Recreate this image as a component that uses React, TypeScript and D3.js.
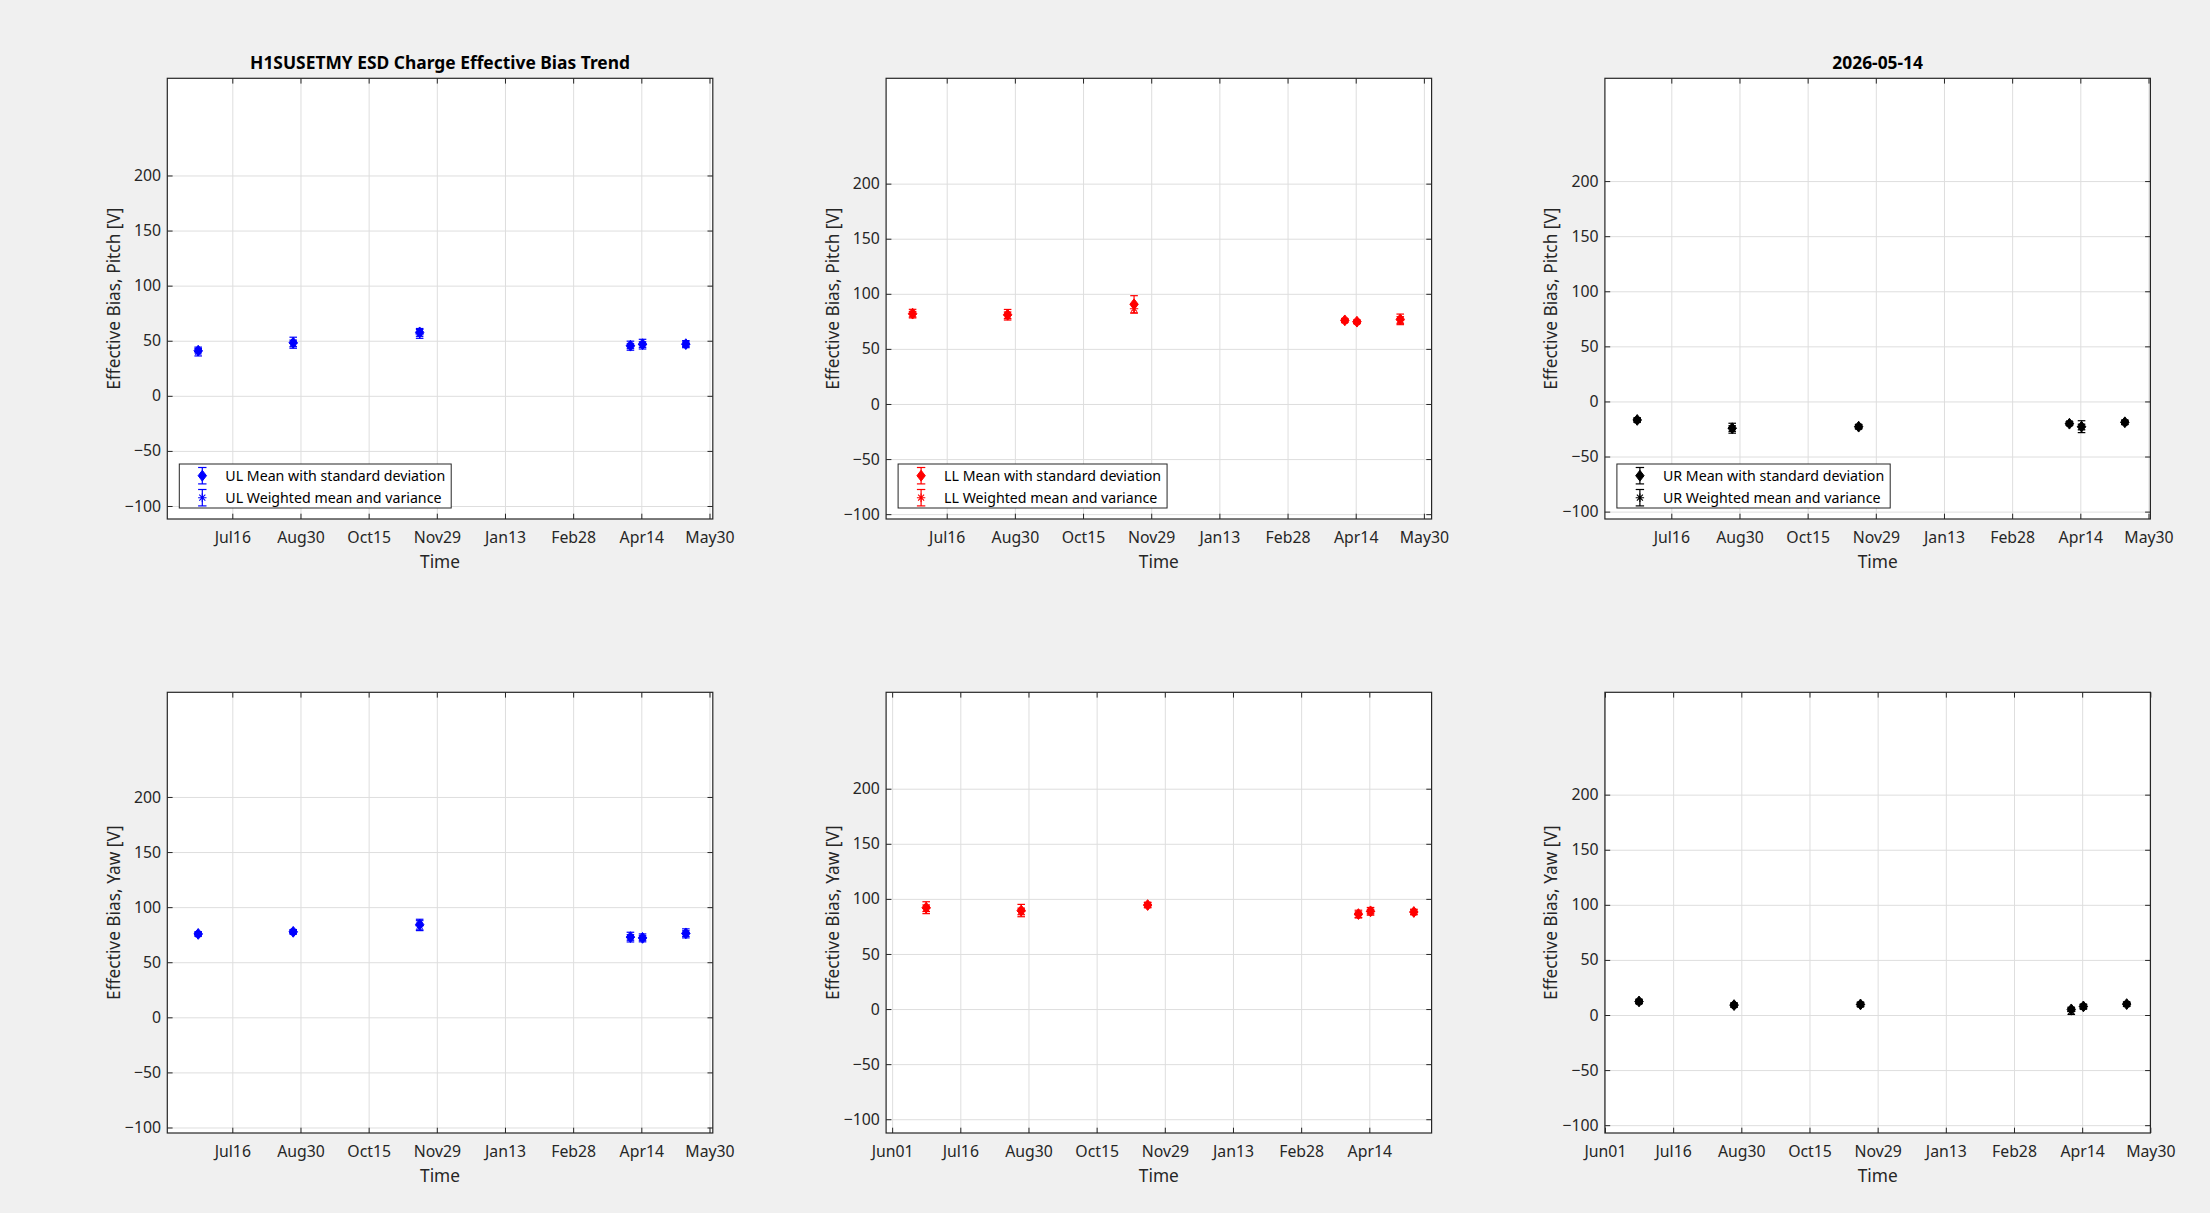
import { useRef, useEffect } from "react";
import * as d3 from "d3";

// measurement dates (UTC)
const dates = [
  "2025-06-23T16:00Z",
  "2025-08-25T22:00Z",
  "2025-11-18T02:00Z",
  "2026-04-07T09:00Z",
  "2026-04-15T10:30Z",
  "2026-05-14T06:30Z",
];

// x ticks are evenly spaced from Jun01
const xTickStart = "2025-06-01T00:00Z";
const xTickStepDays = 45.375;
const xTickLabels = ["Jun01", "Jul16", "Aug30", "Oct15", "Nov29", "Jan13", "Feb28", "Apr14", "May30"];
const yTicks = [-100, -50, 0, 50, 100, 150, 200];

// UL pitch
const ulPitchMean = [41.0, 48.2, 57.6, 45.5, 46.9, 46.9];
const ulPitchStd = [2.0, 5.0, 3.5, 4.1, 4.4, 3.2];
const ulPitchWMean = [40.2, 47.6, 56.2, 45.2, 46.5, 46.8];
const ulPitchWStd = [4.0, 3.0, 4.0, 2.0, 2.5, 2.0];

// LL pitch
const llPitchMean = [82.0, 81.0, 90.5, 75.9, 74.7, 76.8];
const llPitchStd = [3.9, 4.8, 7.8, 1.5, 1.5, 4.8];
const llPitchWMean = [81.5, 80.5, 86.5, 75.6, 74.5, 76.2];
const llPitchWStd = [2.5, 3.0, 4.0, 1.5, 1.5, 3.0];

// UR pitch
const urPitchMean = [-16.8, -24.3, -22.9, -20.2, -22.9, -18.9];
const urPitchStd = [2.0, 4.5, 2.0, 1.5, 5.4, 2.0];
const urPitchWMean = [-17.0, -24.6, -23.0, -20.0, -23.2, -19.0];
const urPitchWStd = [1.5, 2.5, 1.5, 1.5, 2.5, 1.5];

// UL yaw
const ulYawMean = [75.7, 77.6, 84.2, 72.8, 72.1, 76.2];
const ulYawStd = [2.0, 2.0, 4.8, 4.4, 3.6, 4.1];
const ulYawWMean = [75.5, 77.5, 83.2, 72.5, 72.0, 76.0];
const ulYawWStd = [1.5, 1.5, 4.5, 2.5, 2.0, 2.5];

// LL yaw
const llYawMean = [92.0, 89.4, 94.4, 86.2, 88.7, 88.1];
const llYawStd = [5.4, 5.6, 2.5, 3.5, 3.5, 2.5];
const llYawWMean = [91.5, 88.6, 94.5, 85.6, 88.5, 88.0];
const llYawWStd = [3.0, 3.0, 2.0, 2.5, 2.0, 2.0];

// UR yaw
const urYawMean = [12.3, 9.0, 9.6, 5.1, 7.8, 9.9];
const urYawStd = [2.0, 2.0, 2.0, 2.0, 2.0, 2.0];
const urYawWMean = [12.0, 9.0, 9.5, 3.5, 7.5, 9.8];
const urYawWStd = [1.5, 1.5, 1.5, 3.0, 2.0, 1.5];

const W = 2210;
const H = 1213;
const colLeft = [167.3, 886.1, 1604.9];
const rowTop = [78.3, 692.3];
const axW = 545.5;
const axH = 440.7;
const xSpanDays = 363.1;
const DAY = 86400000;
const FONT = "'Noto Sans', sans-serif";
const INK = "#262626";
const TICK_FS = 15.8;

const panels = [
  { col: 0, row: 0, color: "#0000ff", name: "UL", ylabel: "Effective Bias, Pitch [V]", title: "H1SUSETMY ESD Charge Effective Bias Trend", legend: true, xStart: 2.105, yDomain: [-111.8, 288.2], mean: ulPitchMean, std: ulPitchStd, wmean: ulPitchWMean, wstd: ulPitchWStd },
  { col: 1, row: 0, color: "#ff0000", name: "LL", ylabel: "Effective Bias, Pitch [V]", title: "", legend: true, xStart: 5.035, yDomain: [-104.4, 295.6], mean: llPitchMean, std: llPitchStd, wmean: llPitchWMean, wstd: llPitchWStd },
  { col: 2, row: 0, color: "#000000", name: "UR", ylabel: "Effective Bias, Pitch [V]", title: "2026-05-14", legend: true, xStart: 1.175, yDomain: [-106.7, 293.3], mean: urPitchMean, std: urPitchStd, wmean: urPitchWMean, wstd: urPitchWStd },
  { col: 0, row: 1, color: "#0000ff", name: "UL", ylabel: "Effective Bias, Yaw [V]", title: "", legend: false, xStart: 2.105, yDomain: [-105, 295], mean: ulYawMean, std: ulYawStd, wmean: ulYawWMean, wstd: ulYawWStd },
  { col: 1, row: 1, color: "#ff0000", name: "LL", ylabel: "Effective Bias, Yaw [V]", title: "", legend: false, xStart: -4.015, yDomain: [-112.5, 287.5], mean: llYawMean, std: llYawStd, wmean: llYawWMean, wstd: llYawWStd },
  { col: 2, row: 1, color: "#000000", name: "UR", ylabel: "Effective Bias, Yaw [V]", title: "", legend: false, xStart: -0.05, yDomain: [-107.1, 292.9], mean: urYawMean, std: urYawStd, wmean: urYawWMean, wstd: urYawWStd },
];

const diamond = (hw: number, hh: number) => `M0,${-hh}L${hw},0L0,${hh}L${-hw},0Z`;
const asterisk = (r: number) => {
  const s = r * 0.72;
  return `M${-r},0L${r},0M0,${-r}L0,${r}M${-s},${-s}L${s},${s}M${-s},${s}L${s},${-s}`;
};

const drawErrorbar = (g, cx: number, yTop: number, yBot: number, color: string, cap: number) => {
  g.append("line").attr("x1", cx).attr("x2", cx).attr("y1", yTop).attr("y2", yBot)
    .attr("stroke", color).attr("stroke-width", 1.2);
  [yTop, yBot].forEach((yy) =>
    g.append("line").attr("x1", cx - cap).attr("x2", cx + cap).attr("y1", yy).attr("y2", yy)
      .attr("stroke", color).attr("stroke-width", 1.2)
  );
};

const drawPanel = (svg, p) => {
  const t0 = Date.parse(xTickStart);
  const x = d3.scaleUtc()
    .domain([new Date(t0 + p.xStart * DAY), new Date(t0 + (p.xStart + xSpanDays) * DAY)])
    .range([0, axW]);
  const y = d3.scaleLinear().domain(p.yDomain).range([axH, 0]);
  const [d0, d1] = x.domain();
  const ticks = xTickLabels
    .map((label, i) => ({ date: new Date(t0 + i * xTickStepDays * DAY), label }))
    .filter((t) => t.date >= d0 && t.date <= d1);
  const tickDates = ticks.map((t) => t.date);
  const labelOf = new Map(ticks.map((t) => [t.date.getTime(), t.label]));

  const g = svg.append("g").attr("transform", `translate(${colLeft[p.col]},${rowTop[p.row]})`);
  g.append("rect").attr("width", axW).attr("height", axH).attr("fill", "#ffffff");

  // grid
  const gx = g.append("g").attr("transform", `translate(0,${axH})`)
    .call(d3.axisBottom(x).tickValues(tickDates).tickSize(-axH).tickFormat(() => ""));
  const gy = g.append("g").call(d3.axisLeft(y).tickValues(yTicks).tickSize(-axW).tickFormat(() => ""));
  [gx, gy].forEach((a) => {
    a.select(".domain").remove();
    a.selectAll("line").attr("stroke", "#dedede").attr("stroke-width", 1);
  });

  // data
  const xs = dates.map((d) => x(new Date(d)));
  xs.forEach((cx, i) => {
    drawErrorbar(g, cx, y(p.mean[i] + p.std[i]), y(p.mean[i] - p.std[i]), p.color, 3.8);
    g.append("path").attr("d", diamond(4.2, 5.4)).attr("transform", `translate(${cx},${y(p.mean[i])})`)
      .attr("fill", p.color).attr("stroke", p.color).attr("stroke-width", 1);
  });
  xs.forEach((cx, i) => {
    drawErrorbar(g, cx, y(p.wmean[i] + p.wstd[i]), y(p.wmean[i] - p.wstd[i]), p.color, 3.8);
    g.append("path").attr("d", asterisk(4.2)).attr("transform", `translate(${cx},${y(p.wmean[i])})`)
      .attr("fill", "none").attr("stroke", p.color).attr("stroke-width", 1.1);
  });

  // axes with inward ticks
  const styleAxis = (a) => {
    a.select(".domain").remove();
    a.selectAll("line").attr("stroke", INK).attr("stroke-width", 1);
    a.selectAll("text").attr("fill", INK).style("font-family", FONT).style("font-size", `${TICK_FS}px`);
  };
  g.append("g").attr("transform", `translate(0,${axH})`)
    .call(d3.axisBottom(x).tickValues(tickDates).tickSize(-5.3).tickPadding(24.3 - 0.71 * TICK_FS)
      .tickFormat((d) => labelOf.get(d.getTime()) || ""))
    .call(styleAxis);
  g.append("g")
    .call(d3.axisTop(x).tickValues(tickDates).tickSize(-5.3).tickFormat(() => ""))
    .call(styleAxis);
  g.append("g")
    .call(d3.axisLeft(y).tickValues(yTicks).tickSize(-5.3).tickPadding(6.3))
    .call(styleAxis);
  g.append("g").attr("transform", `translate(${axW},0)`)
    .call(d3.axisRight(y).tickValues(yTicks).tickSize(-5.3).tickFormat(() => ""))
    .call(styleAxis);

  g.append("rect").attr("width", axW).attr("height", axH)
    .attr("fill", "none").attr("stroke", INK).attr("stroke-width", 1.2);

  // labels
  g.append("text").text("Time")
    .attr("x", axW / 2).attr("y", axH + 49.3).attr("text-anchor", "middle")
    .attr("fill", INK).style("font-family", FONT).style("font-size", "17.3px");
  g.append("text").text(p.ylabel)
    .attr("transform", `translate(-47.5,${axH / 2}) rotate(-90)`).attr("text-anchor", "middle")
    .attr("fill", INK).style("font-family", FONT).style("font-size", "17.3px");
  if (p.title) {
    g.append("text").text(p.title)
      .attr("x", axW / 2).attr("y", -9.3).attr("text-anchor", "middle")
      .attr("fill", "#000").style("font-family", FONT).style("font-size", "17.4px").style("font-weight", "bold");
  }

  // legend
  if (p.legend) {
    const lg = g.append("g").attr("transform", `translate(12,${axH - 55})`);
    const box = lg.append("rect").attr("height", 44).attr("fill", "#ffffff")
      .attr("stroke", INK).attr("stroke-width", 1);
    const rows = [`${p.name} Mean with standard deviation`, `${p.name} Weighted mean and variance`];
    let maxLen = 0;
    rows.forEach((label, i) => {
      const cy = 11.7 + i * 22;
      drawErrorbar(lg, 23, cy - 8.2, cy + 8.2, p.color, 4.2);
      if (i === 0) {
        lg.append("path").attr("d", diamond(4.2, 5.4)).attr("transform", `translate(23,${cy})`)
          .attr("fill", p.color).attr("stroke", p.color);
      } else {
        lg.append("path").attr("d", asterisk(4.2)).attr("transform", `translate(23,${cy})`)
          .attr("fill", "none").attr("stroke", p.color).attr("stroke-width", 1.1);
      }
      const t = lg.append("text").text(label).attr("x", 46).attr("y", cy)
        .attr("dominant-baseline", "central").attr("fill", "#000")
        .style("font-family", FONT).style("font-size", "14.2px");
      maxLen = Math.max(maxLen, (t.node() as SVGTextElement).getComputedTextLength());
    });
    box.attr("width", 46 + maxLen + 6);
  }
};

const App = () => {
  const ref = useRef<SVGSVGElement>(null);

  useEffect(() => {
    if (ref.current) {
      const svg = d3.select(ref.current);
      svg.selectAll("*").remove();
      svg.append("rect").attr("width", W).attr("height", H).attr("fill", "#f0f0f0");
      panels.forEach((p) => drawPanel(svg, p));
    }
  }, []);

  return (
    <>
      <style>{"body{margin:0;background:#f0f0f0}"}</style>
      <svg ref={ref} width={W} height={H} style={{ display: "block" }} />
    </>
  );
};

export default App;
